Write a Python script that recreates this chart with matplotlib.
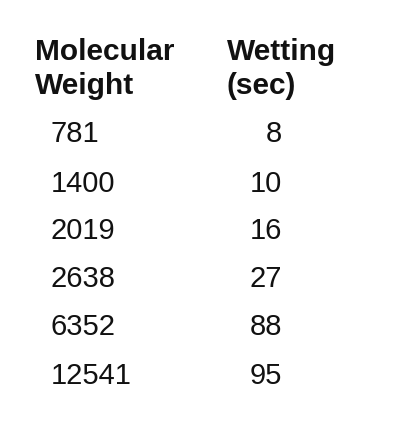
import matplotlib
matplotlib.use("Agg")
import matplotlib.pyplot as plt

headers = [["Molecular", "Weight"], ["Wetting", "(sec)"]]
weights = [781, 1400, 2019, 2638, 6352, 12541]
wetting = [8, 10, 16, 27, 88, 95]

W, H = 400, 437
fig = plt.figure(figsize=(W/100, H/100), dpi=100)
fig.patch.set_facecolor("white")
font = "Liberation Sans"

def px(x, y):
    return x / W, 1 - y / H

for i, line in enumerate(headers[0]):
    fig.text(*px(35, 52 + i*34), line, fontsize=21.5, fontweight="bold", family=font, va="center", ha="left", color="#111")
for i, line in enumerate(headers[1]):
    fig.text(*px(227, 52 + i*34), line, fontsize=21.5, fontweight="bold", family=font, va="center", ha="left", color="#111")

row_y = [134, 184, 231, 279, 327, 376]
for y, w, t in zip(row_y, weights, wetting):
    fig.text(*px(51, y), str(w), fontsize=21, family=font, va="center", ha="left", color="#111")
    fig.text(*px(282, y), str(t), fontsize=21, family=font, va="center", ha="right", color="#111")

fig.savefig("out.png", dpi=100, facecolor="white")
